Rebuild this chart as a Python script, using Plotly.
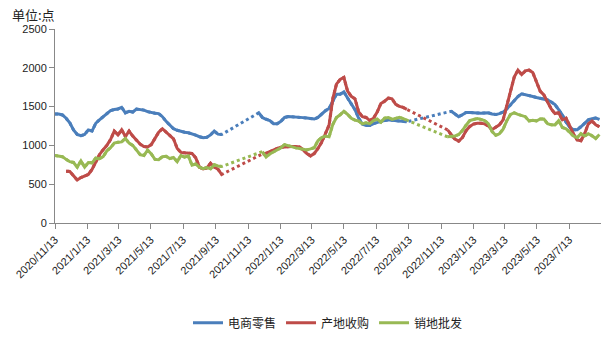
import plotly.graph_objects as go
import pandas as pd

start_date = "2020-11-13"
n_weeks = 148
dates = pd.date_range(start_date, periods=n_weeks, freq="7D")

N = None
ecommerce = ([1405,1405,1392,1350,1290,1200,1140,1125,1140,1200,
              1185,1285,1330,1370,1410,1448,1462,1470,1490,1420,
              1440,1430,1468,1465,1455,1435,1420,1415,1410,1370,
              1310,1260,1215,1195,1180,1170,1162,1150,1132,1112,
              1100,1105,1135,1185,1145,1140]
             + [N]*9 +
             [1420,1360,1335,1320,1280,
              1280,1310,1360,1372,1370,1368,1362,1358,1352,1345,
              1340,1360,1405,1446,1475,1560,1660,1660,1690,1610,
              1540,1460,1350,1275,1258,1258,1280,1300,1310,1320,
              1330,1325,1318,1315,1310,1304]
             + [N]*11 +
             [1440,1408,1370,
              1395,1425,1425,1420,1418,1415,1418,1420,1405,1397,
              1410,1430,1470,1520,1570,1630,1665,1650,1642,1630,
              1618,1608,1598,1586,1560,1525,1460,1390,1300,1235,
              1203,1203,1240,1290,1330,1345,1352,1335])

origin_purchase = ([N]*3 +
             [668,665,610,555,585,610,625,
              690,790,880,945,1000,1075,1184,1135,1200,1115,
              1185,1120,1070,1016,985,980,1010,1100,1170,1215,
              1170,1130,1085,960,910,904,904,895,840,720,
              698,710,770,720,695,625]
             + [N]*10 +
             [890,900,920,945,
              960,975,980,985,987,985,980,945,895,865,
              895,960,1040,1150,1260,1600,1790,1850,1875,1700,
              1632,1600,1430,1371,1360,1320,1350,1430,1540,1570,
              1610,1600,1530,1502,1490,1464]
             + [N]*10 +
             [1200,1135,1080,1055,
              1100,1190,1245,1275,1285,1285,1278,1250,1203,1235,
              1265,1330,1520,1700,1880,1970,1913,1960,1970,1940,
              1820,1700,1650,1550,1470,1410,1420,1330,1350,1250,
              1147,1070,1060,1150,1278,1315,1265,1240])

wholesale = ([870,865,855,820,790,780,720,800,720,780,
              775,835,830,855,930,970,1030,1040,1045,1090,
              1030,1000,945,880,870,940,890,820,815,855,
              860,830,845,790,870,850,865,745,760,720,
              700,715,700,750,735,728]
             + [N]*10 +
             [920,850,890,915,
              940,970,1010,995,975,968,960,950,942,955,
              970,1060,1100,1120,1110,1270,1360,1395,1440,1400,
              1350,1325,1315,1278,1290,1280,1320,1340,1300,1350,
              1360,1335,1350,1362,1345,1326]
             + [N]*10 +
             [1110,1112,1121,1140,
              1190,1260,1320,1334,1345,1335,1320,1280,1180,1130,
              1150,1210,1320,1400,1420,1400,1385,1370,1315,1325,
              1315,1340,1340,1280,1265,1262,1320,1230,1215,1170,
              1120,1100,1150,1120,1150,1125,1090,1140])

series_names = ["电商零售", "产地收购", "销地批发"]
series_values = [ecommerce, origin_purchase, wholesale]
colors = ["#4A7EBB", "#BE4B48", "#98B954"]

tick_dates = ["2020-11-13","2021-01-13","2021-03-13","2021-05-13","2021-07-13",
              "2021-09-13","2021-11-13","2022-01-13","2022-03-13","2022-05-13",
              "2022-07-13","2022-09-13","2022-11-13","2023-01-13","2023-03-13",
              "2023-05-13","2023-07-13"]
tick_labels = ["2020/11/13","2021/1/13","2021/3/13","2021/5/13","2021/7/13",
               "2021/9/13","2021/11/13","2022/1/13","2022/3/13","2022/5/13",
               "2022/7/13","2022/9/13","2022/11/13","2023/1/13","2023/3/13",
               "2023/5/13","2023/7/13"]

fig = go.Figure()
# dotted connectors across gaps (drawn beneath)
for name, vals, c in zip(series_names, series_values, colors):
    fig.add_trace(go.Scatter(x=dates, y=vals, mode="lines", connectgaps=True,
                             line=dict(color=c, width=3, dash="dot"),
                             showlegend=False, hoverinfo="skip"))
for name, vals, c in zip(series_names, series_values, colors):
    fig.add_trace(go.Scatter(x=dates, y=vals, mode="lines", name=name,
                             connectgaps=False,
                             line=dict(color=c, width=3)))

font_fam = "Liberation Sans, Noto Sans CJK SC, sans-serif"
fig.update_layout(
    width=605, height=341,
    margin=dict(l=55, r=4, t=29, b=89),
    paper_bgcolor="white", plot_bgcolor="white",
    font=dict(family=font_fam, size=11, color="#222222"),
    showlegend=True,
    legend=dict(orientation="h", x=0.5, xanchor="center", y=-0.44, yanchor="top",
                font=dict(size=12, family="Noto Sans CJK SC, sans-serif"),
                itemwidth=30, tracegroupgap=0),
    annotations=[dict(text="单位:点", xref="paper", yref="paper", x=-0.083, y=1.076,
                      xanchor="left", yanchor="middle", showarrow=False,
                      font=dict(size=13, family="Noto Sans CJK SC, sans-serif", color="#222222"))],
)
fig.update_xaxes(
    type="date",
    range=["2020-11-13", "2023-09-11"],
    tickvals=tick_dates, ticktext=tick_labels, tickangle=-45,
    showline=True, linecolor="#888888", linewidth=1,
    ticks="outside", ticklen=5, tickcolor="#888888",
    showgrid=False, zeroline=False,
    tickfont=dict(size=11),
)
fig.update_yaxes(
    range=[0, 2500], dtick=500,
    showline=True, linecolor="#888888", linewidth=1,
    ticks="outside", ticklen=5, tickcolor="#888888",
    showgrid=False, zeroline=False,
    tickfont=dict(size=11),
)

fig.write_html("out.html")
